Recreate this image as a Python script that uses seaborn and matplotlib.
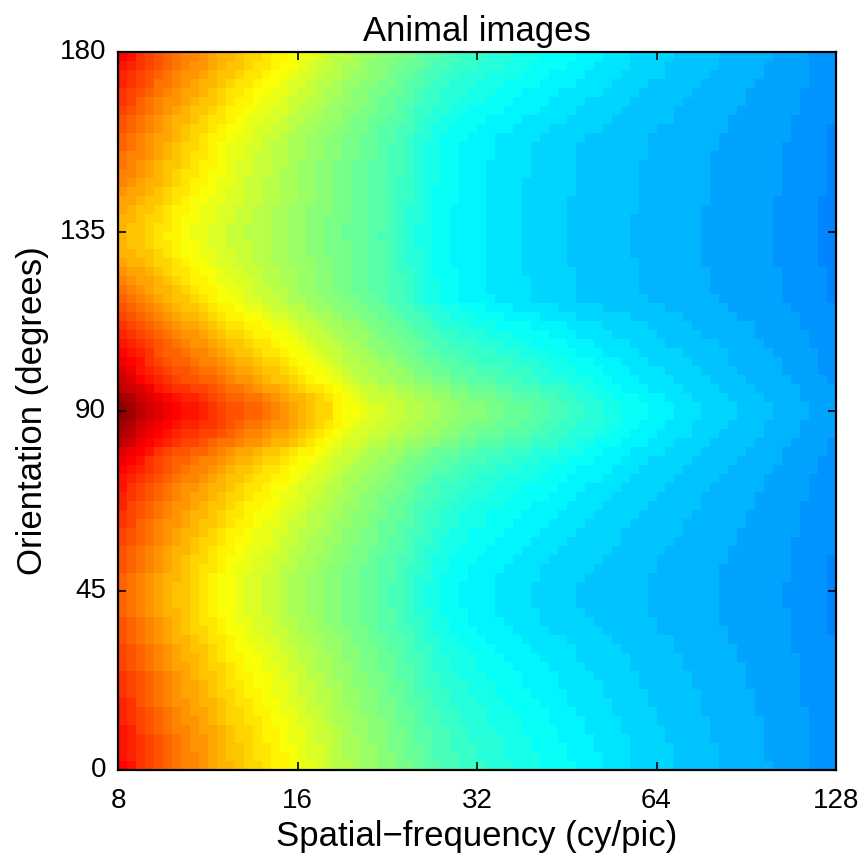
import numpy as np
import matplotlib
matplotlib.use("Agg")
import matplotlib.pyplot as plt
from matplotlib.colors import LinearSegmentedColormap
import seaborn as sns

# ---- data (jet-scale values, 0..1) ----
# spatial-frequency profile along the 90 deg row (80 columns, 8..128 cy/pic, log spaced)
row_90 = [0.98, 0.96, 0.935, 0.915, 0.895, 0.88, 0.865, 0.855, 0.85, 0.84,
          0.83, 0.815, 0.80, 0.79, 0.78, 0.77, 0.755, 0.745, 0.735, 0.72,
          0.705, 0.69, 0.675, 0.66, 0.64, 0.625, 0.612, 0.60, 0.59, 0.582,
          0.575, 0.568, 0.56, 0.553, 0.546, 0.539, 0.532, 0.525, 0.518, 0.511,
          0.505, 0.499, 0.493, 0.487, 0.481, 0.474, 0.467, 0.46, 0.453, 0.446,
          0.438, 0.43, 0.422, 0.414, 0.406, 0.398, 0.39, 0.383, 0.377, 0.372,
          0.367, 0.362, 0.357, 0.352, 0.347, 0.342, 0.338, 0.334, 0.33, 0.326,
          0.322, 0.318, 0.314, 0.31, 0.306, 0.302, 0.298, 0.294, 0.29, 0.287]
# spatial-frequency profile along the 45 deg row
row_45 = [0.775, 0.76, 0.745, 0.73, 0.715, 0.70, 0.685, 0.672, 0.66, 0.648,
          0.635, 0.622, 0.61, 0.60, 0.59, 0.58, 0.572, 0.563, 0.553, 0.543,
          0.534, 0.526, 0.518, 0.51, 0.502, 0.494, 0.486, 0.478, 0.47, 0.461,
          0.452, 0.442, 0.43, 0.418, 0.405, 0.395, 0.387, 0.38, 0.374, 0.369,
          0.364, 0.36, 0.356, 0.352, 0.348, 0.345, 0.342, 0.339, 0.336, 0.333,
          0.33, 0.327, 0.325, 0.323, 0.321, 0.319, 0.317, 0.315, 0.313, 0.311,
          0.309, 0.307, 0.305, 0.303, 0.301, 0.299, 0.297, 0.295, 0.293, 0.291,
          0.289, 0.287, 0.285, 0.283, 0.281, 0.278, 0.275, 0.272, 0.268, 0.264]
# spatial-frequency profile along the 135 deg row
row_135 = [0.69, 0.68, 0.672, 0.663, 0.652, 0.64, 0.628, 0.617, 0.607, 0.598,
           0.59, 0.582, 0.575, 0.568, 0.561, 0.554, 0.547, 0.54, 0.533, 0.526,
           0.519, 0.512, 0.505, 0.498, 0.491, 0.484, 0.477, 0.47, 0.462, 0.453,
           0.443, 0.431, 0.418, 0.405, 0.394, 0.386, 0.379, 0.373, 0.368, 0.364,
           0.36, 0.356, 0.352, 0.348, 0.345, 0.342, 0.339, 0.336, 0.333, 0.33,
           0.327, 0.325, 0.322, 0.32, 0.318, 0.316, 0.314, 0.312, 0.31, 0.308,
           0.306, 0.304, 0.302, 0.30, 0.298, 0.296, 0.294, 0.292, 0.29, 0.288,
           0.286, 0.284, 0.282, 0.28, 0.277, 0.274, 0.271, 0.268, 0.264, 0.26]
# orientation weights (80 rows, 0..180 deg)
# weight_90: share of the 90 deg profile; weight_135: share of the 135 deg profile
weight_90 = [0.42, 0.40, 0.385, 0.37, 0.35, 0.325, 0.30, 0.27, 0.25, 0.23,
             0.205, 0.18, 0.16, 0.13, 0.10, 0.06, 0.035, 0.015, 0.0, 0.0,
             0.0, 0.015, 0.035, 0.06, 0.09, 0.12, 0.15, 0.19, 0.22, 0.26,
             0.30, 0.34, 0.40, 0.46, 0.53, 0.62, 0.74, 0.84, 0.92, 0.98,
             0.98, 0.90, 0.79, 0.68, 0.60, 0.52, 0.45, 0.38, 0.31, 0.24,
             0.16, 0.08, 0.0, 0.0, 0.0, 0.0, 0.0, 0.0, 0.0, 0.0,
             0.0, 0.0, 0.0, 0.0, 0.0, 0.0, 0.0, 0.0, 0.0, 0.0,
             0.02, 0.06, 0.10, 0.14, 0.19, 0.23, 0.28, 0.33, 0.38, 0.42]
weight_135 = [0.0, 0.0, 0.0, 0.0, 0.0, 0.0, 0.0, 0.0, 0.0, 0.0,
              0.0, 0.0, 0.0, 0.0, 0.0, 0.0, 0.0, 0.0, 0.0, 0.0,
              0.0, 0.0, 0.0, 0.0, 0.0, 0.0, 0.0, 0.0, 0.0, 0.0,
              0.0, 0.0, 0.0, 0.0, 0.0, 0.0, 0.0, 0.0, 0.0, 0.0,
              0.0, 0.0, 0.0, 0.0, 0.0, 0.0, 0.0, 0.0, 0.0, 0.0,
              0.0, 0.0, 0.0, 0.19, 0.39, 0.56, 0.72, 0.86, 0.94, 1.0,
              0.97, 0.89, 0.80, 0.67, 0.53, 0.42, 0.31, 0.22, 0.14, 0.03,
              0.0, 0.0, 0.0, 0.0, 0.0, 0.0, 0.0, 0.0, 0.0, 0.0]

x_tick_labels = ["8", "16", "32", "64", "128"]
y_tick_labels = ["0", "45", "90", "135", "180"]

r90 = np.array(row_90)
r45 = np.array(row_45)
r135 = np.array(row_135)
a = np.array(weight_90)[:, None]
b = np.array(weight_135)[:, None]
matrix = r45[None, :] + a * (r90 - r45)[None, :] + b * (r135 - r45)[None, :]

# MATLAB-style 64-level jet
jet64 = LinearSegmentedColormap.from_list(
    "jet64",
    [(0.0, (0, 0, 0.5)), (0.125, (0, 0, 1)), (0.375, (0, 1, 1)),
     (0.625, (1, 1, 0)), (0.875, (1, 0, 0)), (1.0, (0.5, 0, 0))],
    N=64)

# ---- figure ----
fig = plt.figure(figsize=(8.6, 8.55), dpi=100)
ax = fig.add_axes([118 / 860, 1 - 770 / 855, 718 / 860, 718 / 855])
sns.heatmap(matrix, cmap=jet64, vmin=0, vmax=1, cbar=False, ax=ax)
ax.invert_yaxis()

font = ["Liberation Sans", "DejaVu Sans"]
ncol = matrix.shape[1]
nrow = matrix.shape[0]
ax.set_xticks(np.linspace(0, ncol, len(x_tick_labels)))
ax.set_xticklabels(x_tick_labels, family=font, fontsize=20, rotation=0)
ax.set_yticks(np.linspace(0, nrow, len(y_tick_labels)))
ax.set_yticklabels(y_tick_labels, family=font, fontsize=20, rotation=0)
ax.tick_params(direction="in", length=6, width=1.2, top=True, right=True,
               color="black")
ax.tick_params(axis="y", pad=8.5)
ax.tick_params(axis="x", pad=13)
for s in ax.spines.values():
    s.set_visible(True)
    s.set_linewidth(1.6)
    s.set_color("black")

ax.set_xlabel("Spatial\u2212frequency (cy/pic)", family=font, fontsize=25, labelpad=4)
ax.set_ylabel("Orientation (degrees)", family=font, fontsize=25, labelpad=8)
ax.set_title("Animal images", family=font, fontsize=25, pad=8)

fig.savefig("out.png", dpi=100)
